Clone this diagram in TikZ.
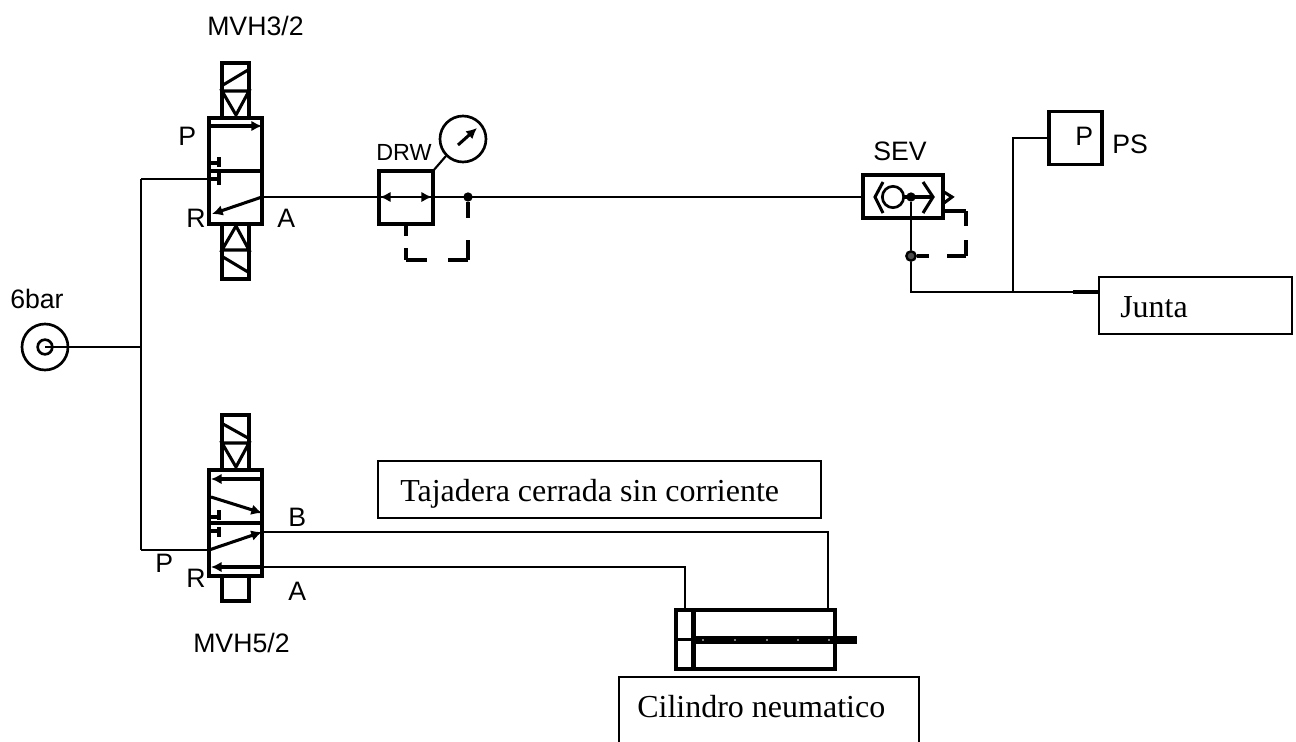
\documentclass[tikz,border=0pt]{standalone}
\usepackage{fontspec}
\usetikzlibrary{arrows.meta}
\setmainfont{Liberation Serif}
\newfontfamily\cadfont{Liberation Sans}
\tikzset{
  >={Latex[length=8pt,width=8pt]},
  pipe/.style={line width=1.6pt},
  symb/.style={line width=2.3pt},
  body/.style={draw,rectangle,line width=2.3pt,inner sep=0pt,outer sep=0pt},
  note/.style={draw,rectangle,line width=1.2pt,inner sep=0pt,outer sep=0pt},
  cad/.style={anchor=base west,inner sep=0pt,font=\cadfont\fontsize{20}{20}\selectfont},
  txt/.style={anchor=base west,inner sep=0pt,font=\fontsize{24}{24}\selectfont},
  dot/.style={circle,fill=black,inner sep=0pt,minimum size=7pt}
}
\begin{document}
\begin{tikzpicture}
[x=0.75pt,y=-0.75pt,color=black]
  \useasboundingbox (0,0) rectangle (1296,742);
  % valve bodies
  \node [body,minimum width=39.75pt,minimum height=79.5pt] (mvt) at (235.5,171) {};
  \node [body,minimum width=39.75pt,minimum height=79.5pt] (mvf) at (235.5,523) {};
  \node [body,minimum width=40.5pt,minimum height=39.75pt] (drw) at (406,197.5) {};
  \node [body,minimum width=60pt,minimum height=32.25pt] (sev) at (903,196.5) {};
  \node [body,minimum width=39.75pt,minimum height=39.75pt] (ps) at (1075.5,138) {};
  \node [body,minimum width=119.25pt,minimum height=44.25pt] (cyl) at (755.5,639.5) {};
  % text boxes
  \node [note,minimum width=332.25pt,minimum height=42.75pt] (taj) at (599.5,489.5) {};
  \node [note,minimum width=144.75pt,minimum height=42.75pt] (jun) at (1195.5,305.5) {};
  \node [note,minimum width=225pt,minimum height=60pt] (cil) at (769,717) {};
  % source and gauge
  \node [circle,draw,line width=2pt,inner sep=0pt,minimum size=34.5pt] (src) at (45,347) {};
  \node [circle,draw,line width=2pt,inner sep=0pt,minimum size=11pt] (srci) at (45,347) {};
  \node [circle,draw,line width=2pt,inner sep=0pt,minimum size=34.5pt] (gau) at (463,139) {};
  \node [circle,draw,line width=2pt,inner sep=0pt,minimum size=16pt] (chk) at (893,197) {};
  % junctions
  \coordinate (tee) at (141,347);
  \coordinate (t3) at (141,179);
  \coordinate (t5) at (141,550);
  \coordinate (p3) at (209,179);
  \coordinate (p5) at (209,550);
  \coordinate (a3) at (262,197);
  \coordinate (b5) at (262,532);
  \coordinate (a5) at (262,567);
  \coordinate (cb) at (828,610);
  \coordinate (ca) at (685,610);
  \coordinate (jn) at (1013,292);
  \coordinate (je) at (1099,292);
  \coordinate (js) at (1073,292);
  \node [dot] (d1) at (468,197) {};
  \node [dot] (d2) at (911,197) {};
  \node [circle,draw,fill=black!70,line width=1.8pt,inner sep=0pt,minimum size=7pt] (d3) at (911,256) {};
  % lines
  \foreach \from/\to in {srci.center/tee,t3/t5,t3/p3,t5/p5,d2/d3}
  \draw[pipe] (\from) -- (\to);
  \draw[pipe] (a3) -- (sev.west |- a3);
  \draw[pipe] (b5) -| (cb);
  \draw[pipe] (a5) -| (ca);
  \draw[pipe] (ps.west) -| (jn);
  \draw[pipe] (d3) |- (je);
  \draw[line width=2.4pt] (js) -- (je);
  \draw[pipe] (gau.south west) -- (drw.north east);
  % top valve
  \draw[symb] (222,118) -- (222,63) -- (249,63) -- (249,118);
  \draw[symb] (222,91) -- (249,91) -- (236,115) -- cycle;
  \draw[symb] (223,85) -- (248,70);
  \draw[symb] (222,224) -- (222,279) -- (249,279) -- (249,224);
  \draw[symb] (222,250) -- (249,250) -- (236,226) -- cycle;
  \draw[symb] (223,257) -- (248,272);
  \draw[symb] (mvt.west) -- (mvt.east);
  \draw[symb,->] (211,126) -- (262,126);
  \draw[symb,->] (a3) -- (212,214);
  \draw[symb] (209,163) -- (219,163) (219,157) -- (219,167);
  \draw[symb] (209,179) -- (219,179) (219,172) -- (219,185);
  % bottom valve
  \draw[symb] (222,470) -- (222,415) -- (249,415) -- (249,470);
  \draw[symb] (222,443) -- (249,443) -- (236,467) -- cycle;
  \draw[symb] (223,424) -- (248,438);
  \draw[symb] (222,576) -- (222,601) -- (249,601) -- (249,576);
  \draw[symb] (mvf.west) -- (mvf.east);
  \draw[symb,->] (262,479) -- (211,479);
  \draw[symb,->] (211,497) -- (262,513);
  \draw[symb,->] (p5) -- (b5);
  \draw[symb,->] (a5) -- (211,567);
  \draw[symb] (209,517) -- (219,517) (219,510) -- (219,520);
  \draw[symb] (209,531) -- (219,531) (219,527) -- (219,537);
  % DRW
  \draw[pipe,->] (406,197) -- (380,197);
  \draw[pipe,->] (406,197) -- (432,197);
  \draw[symb,->] (458,145) -- (477,128);
  \foreach \from/\to in {d1/{468,218},{468,240}/{468,260},{468,260}/{448,260},{406,224}/{406,236},{406,248}/{406,260},{406,260}/{427,260}}
  \draw[symb] (\from) -- (\to);
  % SEV
  \draw[symb] (883,182) -- (875,197) -- (883,213);
  \draw[symb] (923,182) -- (933,197) -- (923,213);
  \draw[symb] (904,197) -- (933,197);
  \draw[symb] (944,192) -- (952,197) -- (944,203);
  \foreach \from/\to in {{943,211}/{966,211},{966,211}/{966,226},{966,240}/{966,256},{966,256}/{947,256},d3/{929,256}}
  \draw[symb] (\from) -- (\to);
  % cylinder
  \draw[line width=4pt] (693.5,610) -- (693.5,669);
  \draw[line width=5.5pt] (693,640) -- (857,640);
  \draw[pipe] (cyl.west) -- (693,639.5);
  \foreach \x in {703,735,767,798,829}
  \fill[white] (\x,640) circle (0.8);
  % labels
  \node [cad] (lmvt) at (207,36) {MVH3/2};
  \node [cad] (lmvf) at (193,652) {MVH5/2};
  \node [cad] (lsrc) at (10,308) {6bar};
  \node [cad] (lpt) at (178,146) {P};
  \node [cad] (lrt) at (186,227) {R};
  \node [cad] (lat) at (277,227) {A};
  \node [cad] (lb) at (288,526) {B};
  \node [cad] (lpf) at (155,572) {P};
  \node [cad] (lrf) at (186,587) {R};
  \node [cad] (laf) at (288,600) {A};
  \node [cad,font=\cadfont\fontsize{17.5}{18}\selectfont] (ldrw) at (376,160) {DRW};
  \node [cad] (lsev) at (873,161) {SEV};
  \node [cad] (lp) at (1075,146) {P};
  \node [cad] (lps) at (1112,153) {PS};
  \node [txt] (ltaj) at (400,501) {Tajadera cerrada sin corriente};
  \node [txt] (ljun) at (1120,317) {Junta};
  \node [txt] (lcil) at (637,717) {Cilindro neumatico};
\end{tikzpicture}
\end{document}
